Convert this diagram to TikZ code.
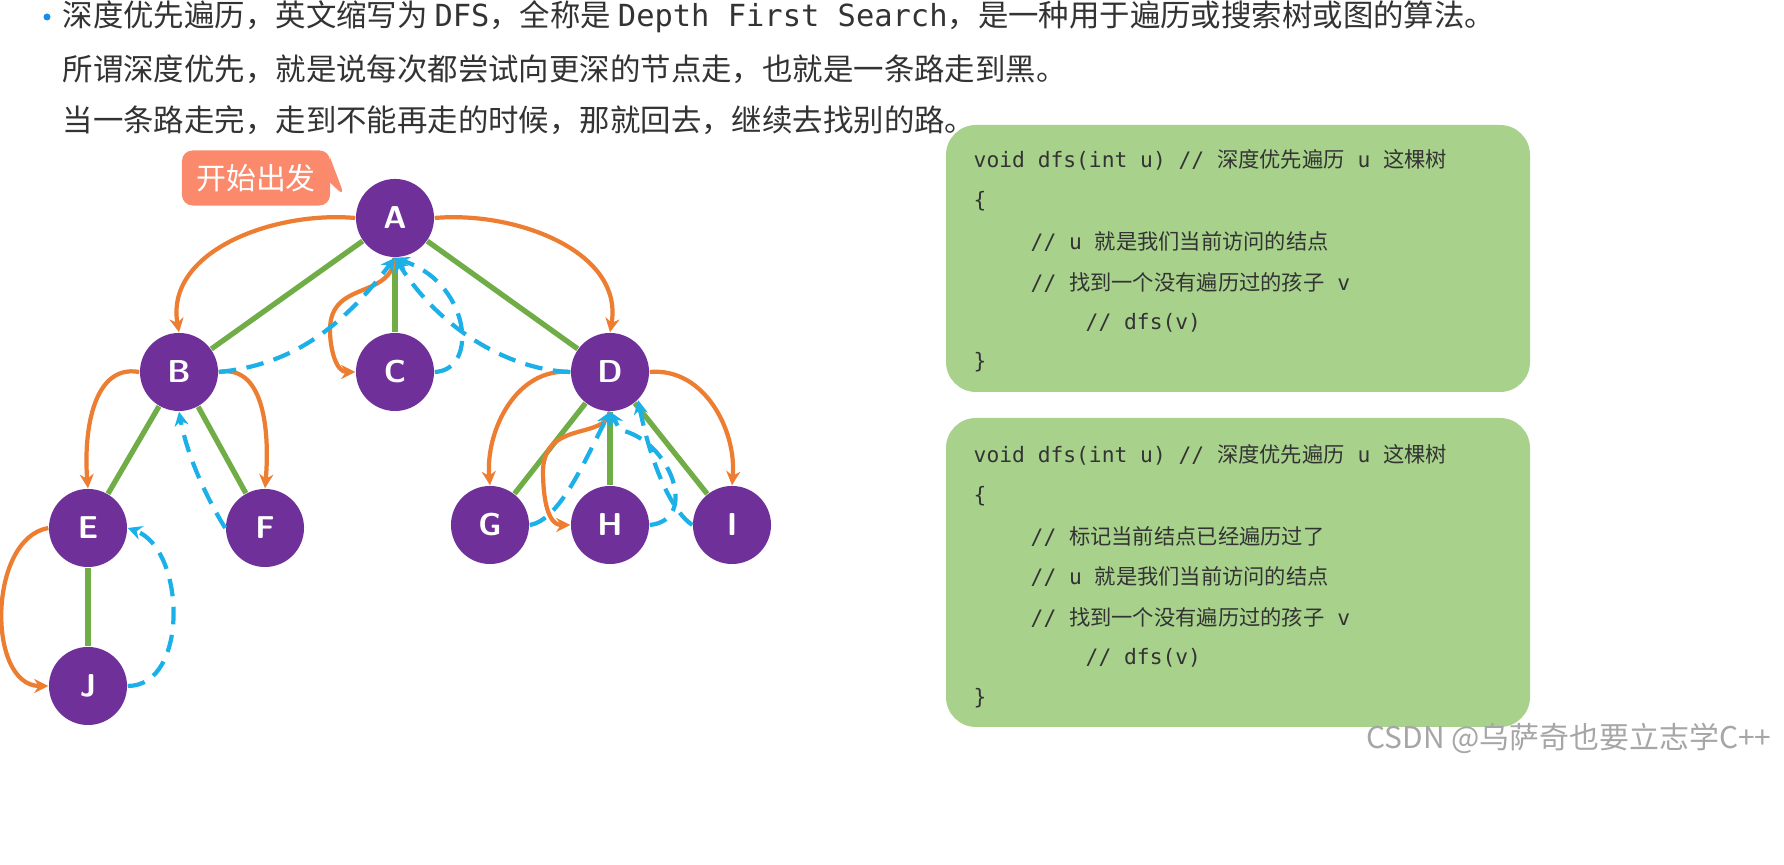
\documentclass[tikz,border=0pt]{standalone}
\usepackage{fontspec}
\setmainfont{Noto Sans CJK SC}
\newfontfamily\codefont{DejaVu Sans Mono}
\newfontfamily\cjk{Noto Sans CJK SC}
\usetikzlibrary{arrows.meta,shapes.callouts}
\definecolor{nodepurple}{rgb}{0.44,0.19,0.60}
\definecolor{edgegreen}{rgb}{0.44,0.68,0.28}
\definecolor{goorange}{rgb}{0.93,0.49,0.19}
\definecolor{backblue}{rgb}{0.11,0.69,0.91}
\definecolor{codegreen}{rgb}{0.66,0.82,0.55}
\definecolor{tagred}{rgb}{0.98,0.54,0.42}
\definecolor{textgray}{rgb}{0.2,0.2,0.2}
\tikzset{
  vtx/.style={shape=circle,fill=nodepurple,draw=none,minimum size=0.78cm,inner sep=0pt,text=white,font=\sffamily\bfseries\fontsize{9}{9}\selectfont},
  tree/.style={edgegreen,line width=1.5pt},
  go/.style={goorange,line width=1.2pt,-{Stealth[length=4pt,width=4pt]}},
  back/.style={backblue,line width=1.2pt,dashed,dash pattern=on 5pt off 3pt,-{Stealth[length=4pt,width=4pt]}},
  codebox/.style={fill=codegreen,draw=none,rounded corners=0.3cm},
  codeline/.style={anchor=west,inner sep=0pt,font=\codefont\fontsize{6.05}{7}\selectfont,text=textgray},
  intro/.style={anchor=west,inner sep=0pt,font=\fontsize{8.65}{9}\selectfont,text=textgray}
}
\begin{document}
\begin{tikzpicture}[x=0.01cm,y=-0.01cm]
        \fill[white] (0,0) rectangle (1784,865);
        % intro text
        \fill[backblue!80!blue] (47,17) circle (3.5);
        \node[intro](l1) at (62,17) {深度优先遍历，英文缩写为 {\codefont DFS}，全称是 {\codefont Depth First Search}，是一种用于遍历或搜索树或图的算法。};
        \node[intro](l2) at (62,69) {所谓深度优先，就是说每次都尝试向更深的节点走，也就是一条路走到黑。};
        \node[intro](l3) at (62,120) {当一条路走完，走到不能再走的时候，那就回去，继续去找别的路。};
        % start tag
        \node[rectangle callout,fill=tagred,rounded corners=3pt,text=white,minimum width=1.48cm,minimum height=0.55cm,
              callout absolute pointer={(345,197)},font=\fontsize{8.5}{9}\selectfont](start) at (256,178) {开始出发};
        % tree
        \node[vtx](A) at (395,218) {A};
        \node[vtx](B) at (179,372) {B};
        \node[vtx](C) at (395,372) {C};
        \node[vtx](D) at (610,372) {D};
        \node[vtx](E) at (88,528) {E};
        \node[vtx](F) at (265,528) {F};
        \node[vtx](G) at (490,525) {G};
        \node[vtx](H) at (610,525) {H};
        \node[vtx](I) at (732,525) {I};
        \node[vtx](J) at (88,686) {J};
        \foreach \u/\v in {A/B,A/C,A/D,B/E,B/F,E/J,D/G,D/H,D/I}
            \draw[tree] (\u) -- (\v);
        % going down
        \draw[go] (A.west) to[out=175,in=100] (B.north);
        \draw[go] (A.east) to[out=5,in=80] (D.north);
        \draw[go] (B.west) to[out=170,in=95] (E.north);
        \draw[go] (B.east) to[out=10,in=85] (F.north);
        \draw[go] (E.west) to[out=190,in=180] (J.west);
        \draw[go] (A.south) .. controls (390,300) and (330,280) .. (330,330) to[out=270,in=180] (C.west);
        \draw[go] (D.west) to[out=175,in=95] (G.north);
        \draw[go] (D.south) .. controls (605,440) and (545,420) .. (543,470) to[out=270,in=180] (H.west);
        \draw[go] (D.east) to[out=5,in=85] (I.north);
        % going back
        \draw[back] (J.east) to[out=0,in=-20] (E.east);
        \draw[back] (F.west) .. controls (220,520) and (190,470) .. (B.south);
        \draw[back] (B.east) .. controls (290,365) and (340,330) .. (A.south);
        \draw[back] (C.east) .. controls (480,370) and (470,280) .. (400,260) -- (A.south);
        \draw[back] (D.west) .. controls (510,370) and (440,330) .. (A.south);
        \draw[back] (G.east) .. controls (560,520) and (585,460) .. (D.south);
        \draw[back] (H.east) .. controls (700,520) and (670,440) .. (620,430) -- (D.south);
        \draw[back] (I.west) .. controls (670,510) and (650,460) .. (D.south east);
        % code boxes
        \fill[codebox] (946,125) rectangle (1530,392);
        \node[codeline](a1) at (973,160) {void dfs(int u) // {\cjk 深度优先遍历} u {\cjk 这棵树}};
        \node[codeline](a2) at (973,201) {\{};
        \node[codeline](a3) at (1030,242) {// u {\cjk 就是我们当前访问的结点}};
        \node[codeline](a4) at (1030,283) {// {\cjk 找到一个没有遍历过的孩子} v};
        \node[codeline](a5) at (1085,323) {// dfs(v)};
        \node[codeline](a6) at (973,362) {\}};
        \fill[codebox] (946,418) rectangle (1530,727);
        \node[codeline](b1) at (973,455) {void dfs(int u) // {\cjk 深度优先遍历} u {\cjk 这棵树}};
        \node[codeline](b2) at (973,496) {\{};
        \node[codeline](b3) at (1030,537) {// {\cjk 标记当前结点已经遍历过了}};
        \node[codeline](b4) at (1030,577) {// u {\cjk 就是我们当前访问的结点}};
        \node[codeline](b5) at (1030,618) {// {\cjk 找到一个没有遍历过的孩子} v};
        \node[codeline](b6) at (1085,658) {// dfs(v)};
        \node[codeline](b7) at (973,698) {\}};
        % watermark
        \node[anchor=east,inner sep=0pt,text=black!35,font=\fontsize{8.5}{9}\selectfont](mark) at (1772,738) {CSDN @乌萨奇也要立志学C++};
        \pgfresetboundingbox
        \path (0,0) rectangle (1784,865);
\end{tikzpicture}
\end{document}
